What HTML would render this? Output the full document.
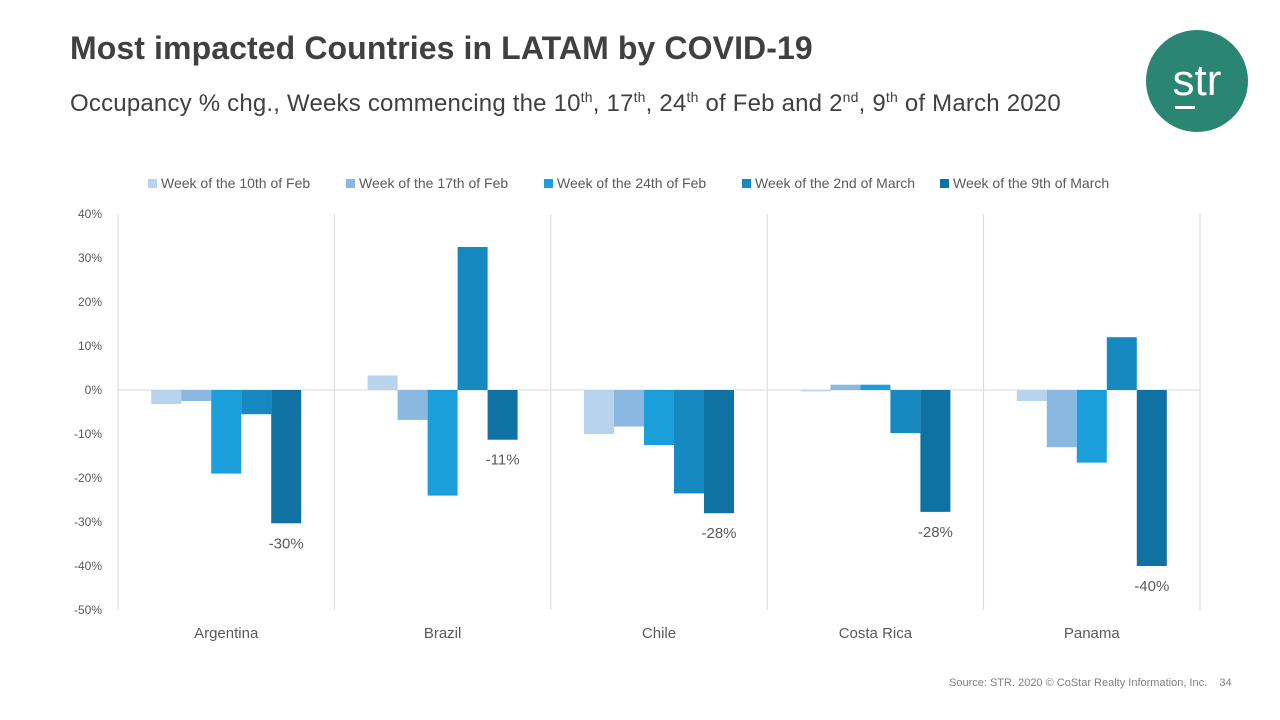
<!DOCTYPE html>
<html><head><meta charset="utf-8"><style>
body{margin:0;width:1280px;height:720px;background:#fff;font-family:"Liberation Sans",sans-serif;overflow:hidden;position:relative}
.t{position:absolute;white-space:nowrap}
</style></head><body>
<div class="t" style="left:70px;top:30px;font-size:32px;font-weight:bold;color:#404040;letter-spacing:0.1px">Most impacted Countries in LATAM by COVID-19</div>
<div class="t" style="left:70px;top:89px;font-size:24px;color:#404040;letter-spacing:0.2px">Occupancy % chg., Weeks commencing the 10<sup style="font-size:14px">th</sup>, 17<sup style="font-size:14px">th</sup>, 24<sup style="font-size:14px">th</sup> of Feb and 2<sup style="font-size:14px">nd</sup>, 9<sup style="font-size:14px">th</sup> of March 2020</div>
<svg style="position:absolute;left:1146px;top:30px" width="102" height="102"><circle cx="51" cy="51" r="51" fill="#2b8573"/><text x="51" y="65" text-anchor="middle" font-family="Liberation Sans" font-size="44" fill="#fff">str</text><rect x="29" y="76" width="20" height="3" fill="#fff"/></svg>
<svg id="c" width="1280" height="720" style="position:absolute;left:0;top:0"></svg>
<div class="t" style="left:949px;top:677px;font-size:11px;color:#808080">Source: STR. 2020 © CoStar Realty Information, Inc.&nbsp;&nbsp;&nbsp;&nbsp;34</div>
<script>
const categories=["Argentina","Brazil","Chile","Costa Rica","Panama"];
const seriesNames=["Week of the 10th of Feb","Week of the 17th of Feb","Week of the 24th of Feb","Week of the 2nd of March","Week of the 9th of March"];
const w10feb=[-3.2,3.3,-10,-0.3,-2.5];
const w17feb=[-2.5,-6.8,-8.3,1.2,-13];
const w24feb=[-19,-24,-12.5,1.2,-16.5];
const w2mar=[-5.5,32.5,-23.5,-9.8,12];
const w9mar=[-30.3,-11.3,-28,-27.7,-40];
const labels=["-30%","-11%","-28%","-28%","-40%"];
const ticks=[40,30,20,10,0,-10,-20,-30,-40,-50];
const series=[w10feb,w17feb,w24feb,w2mar,w9mar];
const colors=["#b8d3ee","#8ab8e0","#1b9fdb","#1689c0","#0f72a2"];
const NS="http://www.w3.org/2000/svg",svg=document.getElementById('c');
const x0=118,x1=1200,yTop=214,yBot=610;
const y=v=>yTop+(40-v)/90*(yBot-yTop);
const cw=(x1-x0)/categories.length,bw=30;
function mk(t,a,txt){const e=document.createElementNS(NS,t);for(const k in a)e.setAttribute(k,a[k]);if(txt!=null)e.textContent=txt;svg.appendChild(e);return e;}
ticks.forEach(t=>{const e=mk('text',{x:102,y:y(t)+4,'text-anchor':'end','font-size':12,fill:'#595959','font-family':'Liberation Sans'},t+'%');

});
mk('line',{x1:x0,x2:x1,y1:y(0),y2:y(0),stroke:'#d9d9d9'});
for(let i=0;i<=categories.length;i++){const l=mk('line',{x1:x0+i*cw,x2:x0+i*cw,y1:yTop,y2:yBot,stroke:'#d9d9d9'});

}
categories.forEach((c,i)=>{
const gx=x0+i*cw+(cw-bw*5)/2;
series.forEach((s,j)=>{const v=s[i];const r=mk('rect',{x:gx+j*bw,y:Math.min(y(v),y(0)),width:bw,height:Math.abs(y(v)-y(0)),fill:colors[j]});

});
const lx=gx+4*bw+bw/2;
const lb=mk('text',{x:lx,y:y(w9mar[i])+25,'text-anchor':'middle','font-size':15,fill:'#595959','font-family':'Liberation Sans'},labels[i]);


const cl=mk('text',{x:x0+i*cw+cw/2,y:638,'text-anchor':'middle','font-size':15,fill:'#595959','font-family':'Liberation Sans'},c);


});
const lxs=[148,346,544,742,940];
seriesNames.forEach((n,j)=>{const r=mk('rect',{x:lxs[j],y:179,width:9,height:9,fill:colors[j]});


const t=mk('text',{x:lxs[j]+13,y:188,'font-size':14,fill:'#595959','font-family':'Liberation Sans'},n);

});
</script>
</body></html>
